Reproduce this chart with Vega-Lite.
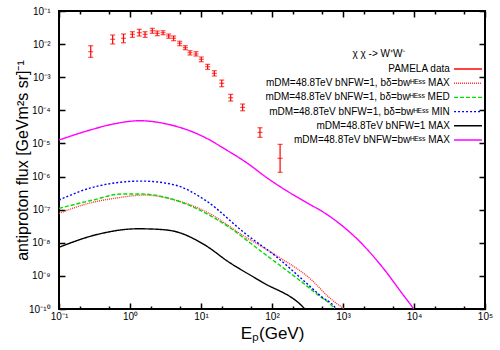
{
  "$schema": "https://vega.github.io/schema/vega-lite/v6.json",
  "autosize": "none",
  "width": 426,
  "height": 298,
  "padding": {"left": 59, "top": 11, "right": 15, "bottom": 41},
  "background": "white",
  "config": {
    "view": {"stroke": "black", "strokeWidth": 2},
    "font": "Liberation Sans",
    "axis": {"grid": false, "domain": false, "tickColor": "black", "tickWidth": 1.5, "labelColor": "black", "labelFont": "Liberation Sans", "labelFontSize": 10, "titleFont": "Liberation Sans", "titleFontWeight": "normal", "titleColor": "black", "labelFlush": false, "labelOverlap": false, "labelBound": false},
    "legend": {
      "orient": "none", "legendX": 294, "legendY": 38,
      "titleFont": "Liberation Sans", "titleFontSize": 10, "titleFontWeight": "normal", "titleColor": "black", "titlePadding": 2,
      "labelFont": "Liberation Sans", "labelFontSize": 10, "labelColor": "black", "labelAlign": "right", "labelOffset": -26.2, "labelLimit": 0,
      "symbolType": "M-1.94,0H1.94", "symbolSize": 207, "symbolStrokeWidth": 1.4, "symbolFillColor": "transparent", "rowPadding": 1.2, "padding": 0
    }
  },
  "datasets": {
    "curves": [
      {"series": "mDM=48.8TeV bNFW=1, bδ=bwᴴᴱˢˢ MAX", "E": 0.1, "flux": 7.7e-8},
      {"series": "mDM=48.8TeV bNFW=1, bδ=bwᴴᴱˢˢ MAX", "E": 0.26, "flux": 1.55e-7},
      {"series": "mDM=48.8TeV bNFW=1, bδ=bwᴴᴱˢˢ MAX", "E": 0.6, "flux": 2.2e-7},
      {"series": "mDM=48.8TeV bNFW=1, bδ=bwᴴᴱˢˢ MAX", "E": 1.63, "flux": 2.76e-7},
      {"series": "mDM=48.8TeV bNFW=1, bδ=bwᴴᴱˢˢ MAX", "E": 4.31, "flux": 1.95e-7},
      {"series": "mDM=48.8TeV bNFW=1, bδ=bwᴴᴱˢˢ MAX", "E": 11.4, "flux": 9.0e-8},
      {"series": "mDM=48.8TeV bNFW=1, bδ=bwᴴᴱˢˢ MAX", "E": 41.7, "flux": 1.52e-8},
      {"series": "mDM=48.8TeV bNFW=1, bδ=bwᴴᴱˢˢ MAX", "E": 123, "flux": 3.78e-9},
      {"series": "mDM=48.8TeV bNFW=1, bδ=bwᴴᴱˢˢ MAX", "E": 362, "flux": 7.5e-10},
      {"series": "mDM=48.8TeV bNFW=1, bδ=bwᴴᴱˢˢ MAX", "E": 621, "flux": 2.34e-10},
      {"series": "mDM=48.8TeV bNFW=1, bδ=bwᴴᴱˢˢ MAX", "E": 1050, "flux": 1.0e-10},

      {"series": "mDM=48.8TeV bNFW=1, bδ=bwᴴᴱˢˢ MED", "E": 0.1, "flux": 1.09e-7},
      {"series": "mDM=48.8TeV bNFW=1, bδ=bwᴴᴱˢˢ MED", "E": 0.3, "flux": 1.95e-7},
      {"series": "mDM=48.8TeV bNFW=1, bδ=bwᴴᴱˢˢ MED", "E": 0.76, "flux": 2.96e-7},
      {"series": "mDM=48.8TeV bNFW=1, bδ=bwᴴᴱˢˢ MED", "E": 1.46, "flux": 2.96e-7},
      {"series": "mDM=48.8TeV bNFW=1, bδ=bwᴴᴱˢˢ MED", "E": 4.31, "flux": 1.95e-7},
      {"series": "mDM=48.8TeV bNFW=1, bδ=bwᴴᴱˢˢ MED", "E": 11.4, "flux": 8.0e-8},
      {"series": "mDM=48.8TeV bNFW=1, bδ=bwᴴᴱˢˢ MED", "E": 24.3, "flux": 3.04e-8},
      {"series": "mDM=48.8TeV bNFW=1, bδ=bwᴴᴱˢˢ MED", "E": 71.6, "flux": 5.35e-9},
      {"series": "mDM=48.8TeV bNFW=1, bδ=bwᴴᴱˢˢ MED", "E": 211, "flux": 9.4e-10},
      {"series": "mDM=48.8TeV bNFW=1, bδ=bwᴴᴱˢˢ MED", "E": 449, "flux": 2.63e-10},
      {"series": "mDM=48.8TeV bNFW=1, bδ=bwᴴᴱˢˢ MED", "E": 730, "flux": 1.12e-10},
      {"series": "mDM=48.8TeV bNFW=1, bδ=bwᴴᴱˢˢ MED", "E": 760, "flux": 1.0e-10},

      {"series": "mDM=48.8TeV bNFW=1, bδ=bwᴴᴱˢˢ MIN", "E": 0.1, "flux": 1.95e-7},
      {"series": "mDM=48.8TeV bNFW=1, bδ=bwᴴᴱˢˢ MIN", "E": 0.32, "flux": 4.92e-7},
      {"series": "mDM=48.8TeV bNFW=1, bδ=bwᴴᴱˢˢ MIN", "E": 1.46, "flux": 7.3e-7},
      {"series": "mDM=48.8TeV bNFW=1, bδ=bwᴴᴱˢˢ MIN", "E": 4.31, "flux": 5.54e-7},
      {"series": "mDM=48.8TeV bNFW=1, bδ=bwᴴᴱˢˢ MIN", "E": 11.4, "flux": 1.95e-7},
      {"series": "mDM=48.8TeV bNFW=1, bδ=bwᴴᴱˢˢ MIN", "E": 41.7, "flux": 1.92e-8},
      {"series": "mDM=48.8TeV bNFW=1, bδ=bwᴴᴱˢˢ MIN", "E": 123, "flux": 3.38e-9},
      {"series": "mDM=48.8TeV bNFW=1, bδ=bwᴴᴱˢˢ MIN", "E": 292, "flux": 6.6e-10},
      {"series": "mDM=48.8TeV bNFW=1, bδ=bwᴴᴱˢˢ MIN", "E": 501, "flux": 2.34e-10},
      {"series": "mDM=48.8TeV bNFW=1, bδ=bwᴴᴱˢˢ MIN", "E": 771, "flux": 1.12e-10},
      {"series": "mDM=48.8TeV bNFW=1, bδ=bwᴴᴱˢˢ MIN", "E": 800, "flux": 1.0e-10},

      {"series": "mDM=48.8TeV bNFW=1 MAX", "E": 0.1, "flux": 7.3e-9},
      {"series": "mDM=48.8TeV bNFW=1 MAX", "E": 0.32, "flux": 1.71e-8},
      {"series": "mDM=48.8TeV bNFW=1 MAX", "E": 1.31, "flux": 2.65e-8},
      {"series": "mDM=48.8TeV bNFW=1 MAX", "E": 2.5, "flux": 2.55e-8},
      {"series": "mDM=48.8TeV bNFW=1 MAX", "E": 4.31, "flux": 2.2e-8},
      {"series": "mDM=48.8TeV bNFW=1 MAX", "E": 11.4, "flux": 8.5e-9},
      {"series": "mDM=48.8TeV bNFW=1 MAX", "E": 24.3, "flux": 2.67e-9},
      {"series": "mDM=48.8TeV bNFW=1 MAX", "E": 71.6, "flux": 6.6e-10},
      {"series": "mDM=48.8TeV bNFW=1 MAX", "E": 276, "flux": 1.12e-10},
      {"series": "mDM=48.8TeV bNFW=1 MAX", "E": 290, "flux": 1.0e-10},

      {"series": "mDM=48.8TeV bNFW=bwᴴᴱˢˢ MAX", "E": 0.1, "flux": 1.27e-5},
      {"series": "mDM=48.8TeV bNFW=bwᴴᴱˢˢ MAX", "E": 0.274, "flux": 2.54e-5},
      {"series": "mDM=48.8TeV bNFW=bwᴴᴱˢˢ MAX", "E": 0.582, "flux": 3.86e-5},
      {"series": "mDM=48.8TeV bNFW=bwᴴᴱˢˢ MAX", "E": 1.38, "flux": 4.85e-5},
      {"series": "mDM=48.8TeV bNFW=bwᴴᴱˢˢ MAX", "E": 3.29, "flux": 3.86e-5},
      {"series": "mDM=48.8TeV bNFW=bwᴴᴱˢˢ MAX", "E": 9.7, "flux": 1.79e-5},
      {"series": "mDM=48.8TeV bNFW=bwᴴᴱˢˢ MAX", "E": 23, "flux": 6.3e-6},
      {"series": "mDM=48.8TeV bNFW=bwᴴᴱˢˢ MAX", "E": 49, "flux": 2.22e-6},
      {"series": "mDM=48.8TeV bNFW=bwᴴᴱˢˢ MAX", "E": 75, "flux": 1.11e-6},
      {"series": "mDM=48.8TeV bNFW=bwᴴᴱˢˢ MAX", "E": 144, "flux": 4.3e-7},
      {"series": "mDM=48.8TeV bNFW=bwᴴᴱˢˢ MAX", "E": 292, "flux": 1.75e-7},
      {"series": "mDM=48.8TeV bNFW=bwᴴᴱˢˢ MAX", "E": 656, "flux": 6.2e-8},
      {"series": "mDM=48.8TeV bNFW=bwᴴᴱˢˢ MAX", "E": 1735, "flux": 1.07e-8},
      {"series": "mDM=48.8TeV bNFW=bwᴴᴱˢˢ MAX", "E": 3700, "flux": 1.69e-9},
      {"series": "mDM=48.8TeV bNFW=bwᴴᴱˢˢ MAX", "E": 7070, "flux": 2.63e-10},
      {"series": "mDM=48.8TeV bNFW=bwᴴᴱˢˢ MAX", "E": 9780, "flux": 1.04e-10},
      {"series": "mDM=48.8TeV bNFW=bwᴴᴱˢˢ MAX", "E": 9900, "flux": 1.0e-10}
    ],
    "pamela": [
      {"E": 0.28, "flux": 5.9e-3, "lo": 3.99e-3, "hi": 8.95e-3},
      {"E": 0.57, "flux": 1.40e-2, "lo": 1.01e-2, "hi": 1.88e-2},
      {"E": 0.81, "flux": 1.50e-2, "lo": 1.10e-2, "hi": 2.02e-2},
      {"E": 1.08, "flux": 1.98e-2, "lo": 1.60e-2, "hi": 2.37e-2},
      {"E": 1.35, "flux": 2.21e-2, "lo": 1.76e-2, "hi": 2.80e-2},
      {"E": 1.63, "flux": 1.98e-2, "lo": 1.60e-2, "hi": 2.37e-2},
      {"E": 2.06, "flux": 2.54e-2, "lo": 2.12e-2, "hi": 3.00e-2},
      {"E": 2.42, "flux": 2.12e-2, "lo": 1.80e-2, "hi": 2.49e-2},
      {"E": 2.92, "flux": 2.21e-2, "lo": 1.92e-2, "hi": 2.54e-2},
      {"E": 3.51, "flux": 1.76e-2, "lo": 1.50e-2, "hi": 2.02e-2},
      {"E": 4.12, "flux": 1.50e-2, "lo": 1.27e-2, "hi": 1.76e-2},
      {"E": 5.01, "flux": 1.06e-2, "lo": 8.95e-3, "hi": 1.22e-2},
      {"E": 6.01, "flux": 7.8e-3, "lo": 6.78e-3, "hi": 8.95e-3},
      {"E": 7.0, "flux": 5.5e-3, "lo": 4.69e-3, "hi": 6.32e-3},
      {"E": 8.5, "flux": 5.02e-3, "lo": 4.37e-3, "hi": 5.9e-3},
      {"E": 10.1, "flux": 3.47e-3, "lo": 2.94e-3, "hi": 4.08e-3},
      {"E": 12.4, "flux": 2.08e-3, "lo": 1.73e-3, "hi": 2.45e-3},
      {"E": 15.4, "flux": 1.31e-3, "lo": 1.09e-3, "hi": 1.57e-3},
      {"E": 19.6, "flux": 6.55e-4, "lo": 5.17e-4, "hi": 8.2e-4},
      {"E": 26.2, "flux": 2.40e-4, "lo": 1.91e-4, "hi": 3.04e-4},
      {"E": 38.6, "flux": 1.23e-4, "lo": 9.7e-5, "hi": 1.55e-4},
      {"E": 67.7, "flux": 2.16e-5, "lo": 1.53e-5, "hi": 2.98e-5},
      {"E": 130, "flux": 3.55e-6, "lo": 1.34e-6, "hi": 9.4e-6}
    ]
  },
  "layer": [
    {
      "data": {"name": "curves"},
      "mark": {"type": "line", "clip": true, "strokeWidth": 1.4, "interpolate": "monotone"},
      "encoding": {
        "x": {"field": "E", "type": "quantitative", "scale": {"type": "log", "domain": [0.1, 100000], "nice": false},
          "axis": {"orient": "bottom", "values": [0.1, 1, 10, 100, 1000, 10000, 100000], "tickSize": -6, "labelPadding": 8,
            "labelExpr": "'10' + ['⁻¹⁰','⁻⁹','⁻⁸','⁻⁷','⁻⁶','⁻⁵','⁻⁴','⁻³','⁻²','⁻¹','⁰','¹','²','³','⁴','⁵'][round(log(datum.value)/LN10)+10]",
            "title": "Eₚ(GeV)", "titleFontSize": 17, "titleBaseline": "alphabetic", "titleY": 29}},
        "y": {"field": "flux", "type": "quantitative", "scale": {"type": "log", "domain": [1e-10, 0.1], "nice": false},
          "axis": {"orient": "left", "values": [1e-10, 1e-9, 1e-8, 1e-7, 1e-6, 1e-5, 1e-4, 1e-3, 1e-2, 1e-1], "tickSize": -6, "labelPadding": 15,
            "labelExpr": "'10' + ['⁻¹⁰','⁻⁹','⁻⁸','⁻⁷','⁻⁶','⁻⁵','⁻⁴','⁻³','⁻²','⁻¹','⁰','¹','²','³','⁴','⁵'][round(log(datum.value)/LN10)+10]",
            "title": "antiproton flux [GeVm²s sr]⁻¹", "titleFontSize": 16, "titleBaseline": "alphabetic", "titleX": -32, "titleAngle": 270}},
        "color": {"field": "series", "type": "nominal",
          "scale": {"domain": ["PAMELA data", "mDM=48.8TeV bNFW=1, bδ=bwᴴᴱˢˢ MAX", "mDM=48.8TeV bNFW=1, bδ=bwᴴᴱˢˢ MED", "mDM=48.8TeV bNFW=1, bδ=bwᴴᴱˢˢ MIN", "mDM=48.8TeV bNFW=1 MAX", "mDM=48.8TeV bNFW=bwᴴᴱˢˢ MAX"],
            "range": ["#ff0000", "#ff3030", "#00dd00", "#0000ff", "#000000", "#ff00ff"]},
          "legend": {"title": "χ χ -> W⁺W⁻", "encode": {"title": {"update": {"dx": {"value": -81}, "align": {"value": "center"}}}}}},
        "strokeDash": {"field": "series", "type": "nominal",
          "scale": {"domain": ["PAMELA data", "mDM=48.8TeV bNFW=1, bδ=bwᴴᴱˢˢ MAX", "mDM=48.8TeV bNFW=1, bδ=bwᴴᴱˢˢ MED", "mDM=48.8TeV bNFW=1, bδ=bwᴴᴱˢˢ MIN", "mDM=48.8TeV bNFW=1 MAX", "mDM=48.8TeV bNFW=bwᴴᴱˢˢ MAX"],
            "range": [[1, 0], [1, 1], [4, 2], [2, 2], [1, 0], [1, 0]]},
          "legend": {"title": "χ χ -> W⁺W⁻", "encode": {"title": {"update": {"dx": {"value": -81}, "align": {"value": "center"}}}}}}
      }
    },
    {
      "data": {"name": "pamela"},
      "mark": {"type": "rule", "color": "#ff0000", "strokeWidth": 1.2},
      "encoding": {
        "x": {"field": "E", "type": "quantitative", "scale": {"type": "log", "domain": [0.1, 100000], "nice": false},
          "axis": {"orient": "top", "values": [0.1, 1, 10, 100, 1000, 10000, 100000], "tickSize": -6, "labels": false, "title": null}},
        "y": {"field": "lo", "type": "quantitative", "scale": {"type": "log", "domain": [1e-10, 0.1], "nice": false},
          "axis": {"orient": "right", "values": [1e-10, 1e-9, 1e-8, 1e-7, 1e-6, 1e-5, 1e-4, 1e-3, 1e-2, 1e-1], "tickSize": -6, "labels": false, "title": null}},
        "y2": {"field": "hi"}
      }
    },
    {
      "data": {"name": "pamela"},
      "mark": {"type": "tick", "orient": "horizontal", "color": "#ff0000", "size": 5, "thickness": 1.2},
      "encoding": {
        "x": {"field": "E", "type": "quantitative", "scale": {"type": "log", "domain": [0.1, 100000], "nice": false},
          "axis": {"orient": "bottom", "values": [0.2, 0.5, 2, 5, 20, 50, 200, 500, 2000, 5000, 20000, 50000], "tickSize": -3, "labels": false, "title": null}},
        "y": {"field": "lo", "type": "quantitative", "scale": {"type": "log", "domain": [1e-10, 0.1], "nice": false}, "axis": null}
      }
    },
    {
      "data": {"name": "pamela"},
      "mark": {"type": "tick", "orient": "horizontal", "color": "#ff0000", "size": 5, "thickness": 1.2},
      "encoding": {
        "x": {"field": "E", "type": "quantitative", "scale": {"type": "log", "domain": [0.1, 100000], "nice": false},
          "axis": {"orient": "top", "values": [0.2, 0.5, 2, 5, 20, 50, 200, 500, 2000, 5000, 20000, 50000], "tickSize": -3, "labels": false, "title": null}},
        "y": {"field": "hi", "type": "quantitative", "scale": {"type": "log", "domain": [1e-10, 0.1], "nice": false}, "axis": null}
      }
    },
    {
      "data": {"name": "pamela"},
      "mark": {"type": "tick", "orient": "horizontal", "color": "#ff0000", "size": 5, "thickness": 1.2},
      "encoding": {
        "x": {"field": "E", "type": "quantitative", "scale": {"type": "log", "domain": [0.1, 100000], "nice": false}, "axis": null},
        "y": {"field": "flux", "type": "quantitative", "scale": {"type": "log", "domain": [1e-10, 0.1], "nice": false}, "axis": null}
      }
    }
  ]
}
